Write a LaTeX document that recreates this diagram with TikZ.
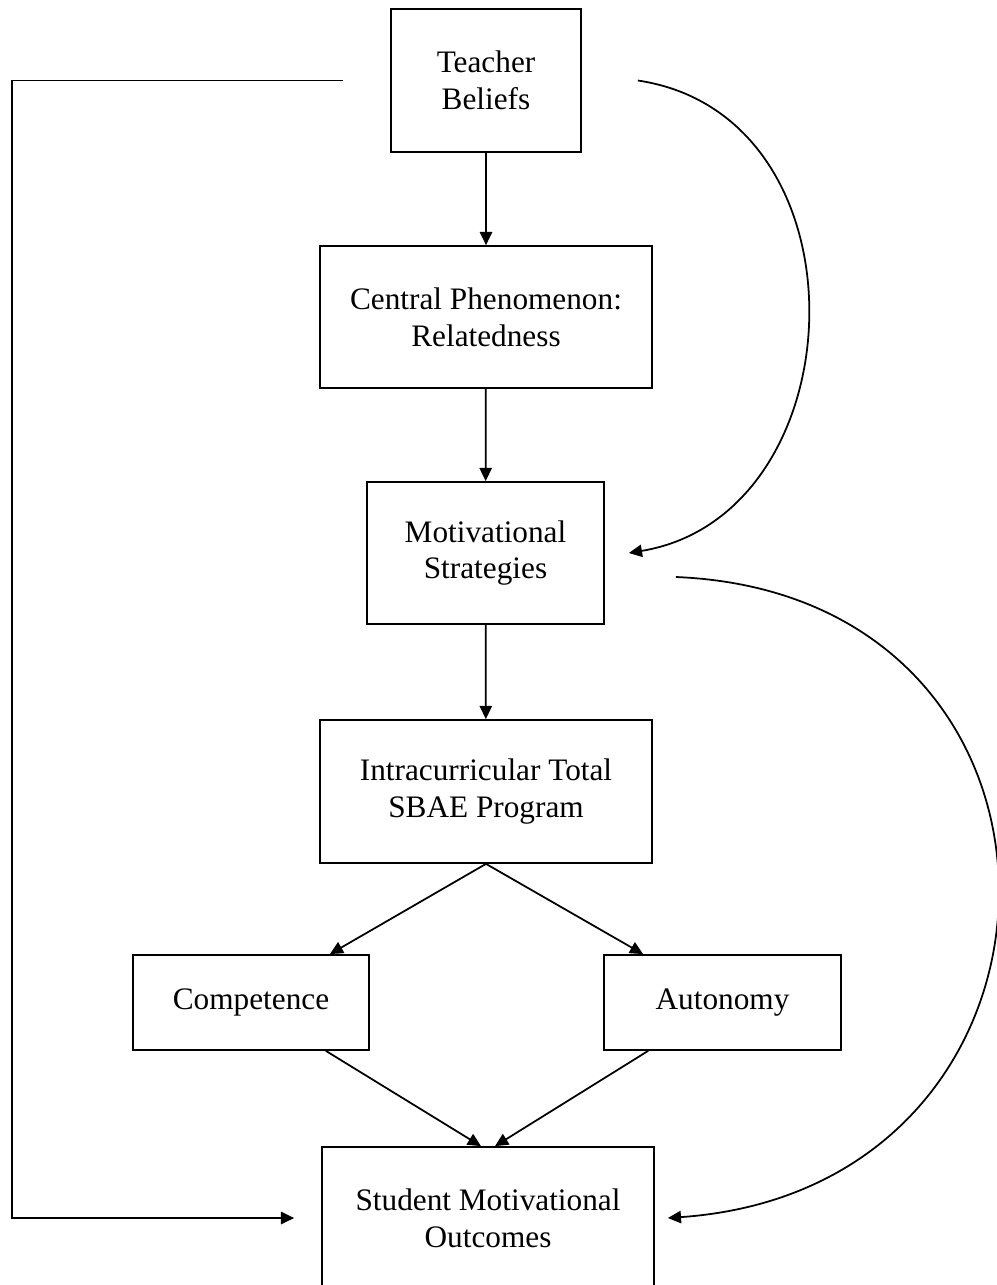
\documentclass[tikz,border=0pt]{standalone}
\usepackage{fontspec}
\setmainfont{Liberation Serif}
\usepackage{tikz}
\usetikzlibrary{arrows.meta,positioning,calc}
\newcommand{\boxfont}{\fontsize{17.8}{21}\selectfont}
\tikzset{
	box/.style={draw,line width=1pt,align=center,inner sep=0pt,font=\boxfont},
	conn/.style={line width=1pt,-{Triangle[length=7.5pt,width=7pt]}}
}

\begin{document}
\begin{tikzpicture}[x=0.02cm,y=-0.02cm]
			\useasboundingbox (0,0) rectangle (997,1285);
			\node[box,minimum width=3.8cm,minimum height=2.86cm] (teacher) at (486,80.5) {Teacher\\Beliefs};
			\node[box,minimum width=6.64cm,minimum height=2.84cm] (central) at (486,317) {Central Phenomenon:\\Relatedness};
			\node[box,minimum width=4.74cm,minimum height=2.84cm] (motiv) at (485.5,553) {Motivational\\Strategies};
			\node[box,minimum width=6.64cm,minimum height=2.86cm] (intra) at (486,791.5) {Intracurricular Total\\SBAE Program};
			\node[box,minimum width=4.72cm,minimum height=1.9cm] (comp) at (251,1002.5) {Competence};
			\node[box,minimum width=4.74cm,minimum height=1.9cm] (auto) at (722.5,1002.5) {Autonomy};
			\node[box,minimum width=6.64cm,minimum height=2.84cm] (student) at (488,1218) {Student Motivational\\Outcomes};
			\coordinate (rail) at (12,0);
			\draw[conn] (teacher) -- (central);
			\draw[conn] (central) -- (motiv);
			\draw[conn] (motiv) -- (intra);
			\draw[conn] (intra.south) -- ([xshift=-0.8cm]comp.north east);
			\draw[conn] (intra.south) -- ([xshift=0.8cm]auto.north west);
			\draw[conn] ([xshift=-0.88cm]comp.south east) -- ([xshift=-0.14cm]student.north);
			\draw[conn] ([xshift=0.9cm]auto.south west) -- ([xshift=0.14cm]student.north);
			\draw[conn] ([xshift=-0.94cm]teacher.west) -- (rail |- teacher.west) -- (rail |- student.west) -- ([xshift=-0.54cm]student.west);
			\draw[conn] ([xshift=1.12cm]teacher.east) .. controls +(235,35) and +(230,-38) .. ([xshift=0.48cm]motiv.east);
			\draw[conn] ([shift={(1.42cm,-0.48cm)}]motiv.east) .. controls +(435,18) and +(433,-30) .. ([xshift=0.26cm]student.east);
\end{tikzpicture}
\end{document}
